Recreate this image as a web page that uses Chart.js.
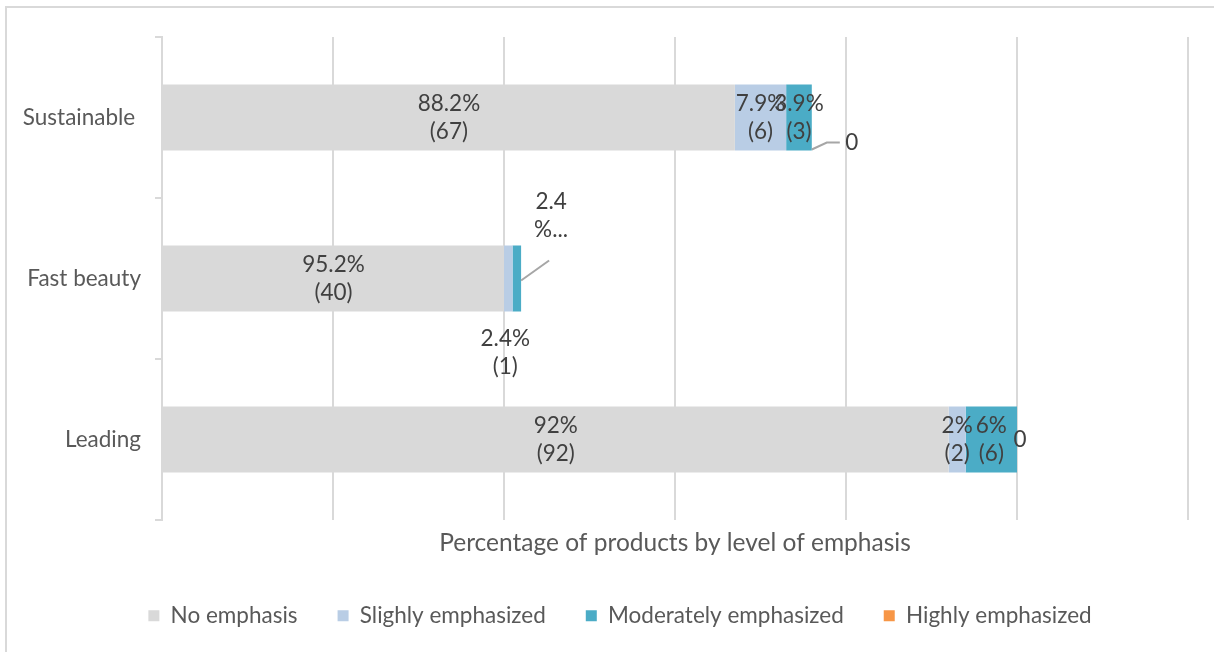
<!DOCTYPE html>
<html>
<head>
<meta charset="utf-8">
<title>Emphasis by product group</title>
<script src="https://cdn.jsdelivr.net/npm/chart.js@4.4.0/dist/chart.umd.min.js"></script>
<style>
  html, body { margin: 0; padding: 0; background: #fff; }
  #wrap { position: relative; width: 1214px; height: 652px; overflow: hidden; }
  /* chart frame, only its top and left edges fall inside the page */
  #frame { position: absolute; left: 5px; top: 6px; width: 1300px; height: 700px;
           border-top: 2px solid #d9d9d9; border-left: 2px solid #d9d9d9; }
  #emphasisChart { position: absolute; left: 0; top: 0; }
</style>
</head>
<body>
<div id="wrap">
  <div id="frame"></div>
  <canvas id="emphasisChart" width="1214" height="652"></canvas>
</div>
<script>
// Data
const categories = ['Sustainable ', 'Fast beauty', 'Leading'];
const seriesNames = ['No emphasis', 'Slighly emphasized', 'Moderately emphasized', 'Highly emphasized'];

const noEmphasis = [67, 40, 92];
const slightlyEmphasized = [6, 1, 2];
const moderatelyEmphasized = [3, 1, 6];
const highlyEmphasized = [0, 0, 0];

const noEmphasisPct = ['88.2%', '95.2%', '92%'];
const slightlyPct = ['7.9%', '2.4%', '2%'];
const moderatelyPct = ['3.9%', '2.4%', '6%'];
const highlyPct = [null, null, null];

// x axis runs 0..120 in steps of 20 (no tick labels shown)
const X_MAX = 120;
const X_STEP = 20;

// Colours
const COLORS = ['#d9d9d9', '#b9cde5', '#4bacc6', '#f79646'];
const GRID_COLOR = '#d9d9d9';
const TEXT_COLOR = '#595959';
const LABEL_COLOR = '#404040';
const LEADER_COLOR = '#a6a6a6';
const FONT_FAMILY = "Lato, 'Open Sans', sans-serif";

// Where each data label goes: 'center' inside the bar, 'below' under it,
// a callout object (offset from the bar end, optional leader line), or 'none'
const labelPlacement = [
    ['center', 'center', 'center'],
    ['center', 'below', 'center'],
    ['center', { dx: 30, dy: -63, lead: [[0, 2], [28, -18]] }, 'center'],
    [{ dx: 40, dy: 25, lead: [[0, 32], [15, 25], [28, 25]] }, 'none', { dx: 3, dy: 0 }]
];
// label that was cut short for lack of room
const clippedLabels = { '2-1': ['2.4', '%...'] };

const seriesValues = [noEmphasis, slightlyEmphasized, moderatelyEmphasized, highlyEmphasized];
const seriesPct = [noEmphasisPct, slightlyPct, moderatelyPct, highlyPct];

function labelLines(di, i) {
    const key = di + '-' + i;
    if (clippedLabels[key]) return clippedLabels[key];
    const pct = seriesPct[di][i];
    const value = seriesValues[di][i];
    if (pct === null) return [String(value)];
    return [pct, '(' + value + ')'];
}

// Data labels drawn straight onto the canvas
const barLabels = {
    id: 'barLabels',
    afterDatasetsDraw(chart) {
        const ctx = chart.ctx;
        const lineH = 28;
        ctx.save();
        ctx.font = '22.5px ' + FONT_FAMILY;
        ctx.fillStyle = LABEL_COLOR;
        ctx.textAlign = 'center';
        ctx.textBaseline = 'middle';

        chart.data.datasets.forEach((ds, di) => {
            const meta = chart.getDatasetMeta(di);
            meta.data.forEach((bar, i) => {
                const place = labelPlacement[di][i];
                if (place === 'none') return;
                const lines = labelLines(di, i);
                const { x, y, base, height } = bar.getProps(['x', 'y', 'base', 'height'], true);
                let cx, cy;

                if (place === 'center') {
                    cx = (x + base) / 2;
                    cy = y;
                } else if (place === 'below') {
                    cx = (x + base) / 2 - 3;
                    cy = y + height / 2 + 27 + (lines.length - 1) * lineH / 2;
                } else {
                    cx = x + place.dx;
                    cy = y + place.dy;
                    if (place.lead) {
                        ctx.save();
                        ctx.strokeStyle = LEADER_COLOR;
                        ctx.lineWidth = 2;
                        ctx.beginPath();
                        place.lead.forEach(([lx, ly], k) => {
                            if (k === 0) ctx.moveTo(x + lx, y + ly);
                            else ctx.lineTo(x + lx, y + ly);
                        });
                        ctx.stroke();
                        ctx.restore();
                    }
                }

                const top = cy - (lines.length - 1) * lineH / 2;
                lines.forEach((t, k) => ctx.fillText(t, cx, top + k * lineH));
            });
        });
        ctx.restore();
    }
};

// The legend sits a little right of the page centre
const LEGEND_SHIFT = 26;
const legendShift = {
    id: 'legendShift',
    afterLayout(chart) {
        if (!chart.legend) return;
        chart.legend.left += LEGEND_SHIFT;
        chart.legend.right += LEGEND_SHIFT;
    }
};

function buildDatasets() {
    return seriesNames.map((name, di) => ({
        label: name,
        data: seriesValues[di],
        backgroundColor: COLORS[di],
        borderWidth: 0,
        barPercentage: 0.41,
        categoryPercentage: 1
    }));
}

function renderChart() {
    const ctx = document.getElementById('emphasisChart').getContext('2d');

    new Chart(ctx, {
        type: 'bar',
        data: {
            labels: categories,
            datasets: buildDatasets()
        },
        options: {
            indexAxis: 'y',
            responsive: false,
            animation: false,
            layout: {
                padding: { top: 37, right: 26, bottom: 15, left: 0 }
            },
            plugins: {
                tooltip: { enabled: false },
                legend: {
                    position: 'bottom',
                    labels: {
                        boxWidth: 11,
                        boxHeight: 11,
                        padding: 40,
                        color: TEXT_COLOR,
                        font: { family: FONT_FAMILY, size: 22.5 }
                    }
                }
            },
            scales: {
                x: {
                    stacked: true,
                    min: 0,
                    max: X_MAX,
                    ticks: { display: false, stepSize: X_STEP },
                    grid: { color: GRID_COLOR, lineWidth: 2, drawTicks: false },
                    border: { display: false },
                    title: {
                        display: true,
                        text: 'Percentage of products by level of emphasis',
                        color: TEXT_COLOR,
                        font: { family: FONT_FAMILY, size: 24.5 },
                        padding: { top: 0, bottom: 7 }
                    },
                    afterFit(scale) { scale.height = 44.5; }
                },
                y: {
                    stacked: true,
                    grid: {
                        offset: true,
                        drawOnChartArea: false,
                        drawTicks: true,
                        tickLength: 7,
                        tickColor: GRID_COLOR,
                        color: GRID_COLOR,
                        lineWidth: 2
                    },
                    border: { display: true, color: GRID_COLOR, width: 2 },
                    ticks: {
                        color: TEXT_COLOR,
                        padding: 14,
                        font: { family: FONT_FAMILY, size: 22.5 }
                    },
                    afterFit(scale) { scale.width = 162; }
                }
            }
        },
        plugins: [barLabels, legendShift]
    });
}

renderChart();
</script>
</body>
</html>
